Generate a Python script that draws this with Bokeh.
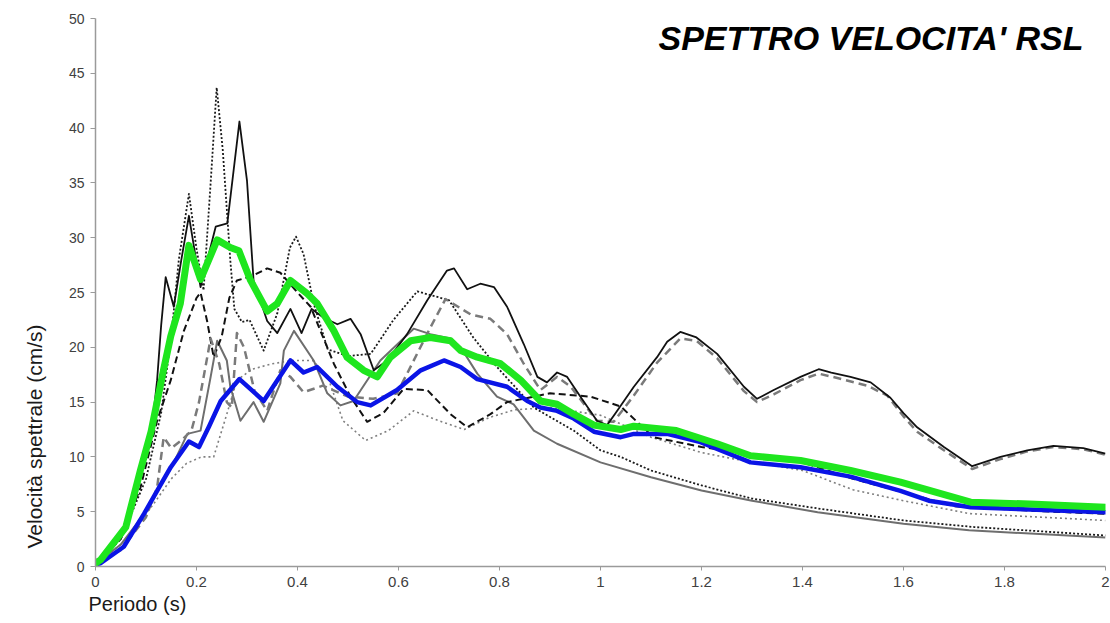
from bokeh.plotting import figure
from bokeh.embed import file_html
from bokeh.resources import INLINE
from bokeh.models import Range1d, FixedTicker, NumeralTickFormatter, Label, Title

# ---- data (period s, spectral velocity cm/s) ----
black_solid_x = [0, 0.05, 0.08, 0.1, 0.115, 0.122, 0.13, 0.139, 0.155, 0.17, 0.185, 0.208, 0.238, 0.261, 0.285, 0.30, 0.313, 0.34, 0.36, 0.386, 0.408, 0.428, 0.452, 0.479, 0.505, 0.525, 0.551, 0.578, 0.617, 0.657, 0.696, 0.71, 0.736, 0.762, 0.789, 0.815, 0.848, 0.875, 0.894, 0.914, 0.934, 0.96, 0.993, 1.013, 1.03, 1.066, 1.112, 1.132, 1.158, 1.19, 1.231, 1.284, 1.31, 1.343, 1.396, 1.432, 1.457, 1.495, 1.535, 1.574, 1.6, 1.627, 1.68, 1.736, 1.792, 1.845, 1.897, 1.956, 2.0]
black_solid_y = [0.3, 2.8, 7.0, 10.5, 14.0, 17.0, 22.0, 26.4, 23.7, 28.0, 32.0, 25.5, 31.0, 31.3, 40.6, 35.2, 26.1, 22.4, 21.3, 23.5, 21.3, 23.5, 22.7, 22.1, 22.6, 21.2, 17.9, 18.8, 21.2, 24.3, 27.0, 27.2, 25.3, 25.8, 25.5, 23.7, 20.3, 17.3, 16.8, 17.7, 17.3, 15.5, 13.3, 12.9, 14.0, 16.4, 19.1, 20.5, 21.4, 20.9, 19.4, 16.4, 15.3, 16.1, 17.3, 18.0, 17.7, 17.3, 16.8, 15.4, 14.0, 12.7, 10.9, 9.15, 10.0, 10.6, 11.0, 10.8, 10.3]

gray_dash_x = [0, 0.05, 0.1, 0.122, 0.135, 0.15, 0.17, 0.19, 0.205, 0.228, 0.245, 0.26, 0.27, 0.28, 0.294, 0.315, 0.34, 0.366, 0.386, 0.412, 0.45, 0.5, 0.55, 0.597, 0.617, 0.663, 0.693, 0.743, 0.782, 0.815, 0.848, 0.881, 0.914, 0.941, 0.993, 1.026, 1.066, 1.112, 1.158, 1.19, 1.231, 1.284, 1.31, 1.343, 1.396, 1.432, 1.469, 1.528, 1.568, 1.6, 1.627, 1.68, 1.736, 1.792, 1.845, 1.897, 1.956, 2.0]
gray_dash_y = [0.2, 1.5, 4.5, 7.2, 11.8, 10.8, 11.5, 12.4, 15.0, 20.8, 18.5, 15.0, 14.5, 21.3, 20.0, 16.0, 14.2, 17.9, 17.3, 15.9, 16.5, 15.5, 15.3, 15.8, 17.6, 21.8, 24.4, 23.0, 22.6, 21.2, 18.5, 16.1, 17.3, 16.4, 13.3, 13.2, 15.6, 18.6, 20.8, 20.6, 19.0, 16.0, 15.0, 15.7, 17.0, 17.6, 17.2, 16.5, 15.6, 13.7, 12.3, 10.6, 8.9, 9.8, 10.5, 10.9, 10.7, 10.2]

black_dash_x = [0, 0.05, 0.089, 0.122, 0.149, 0.175, 0.2, 0.208, 0.221, 0.234, 0.25, 0.265, 0.28, 0.31, 0.34, 0.366, 0.4, 0.426, 0.45, 0.472, 0.505, 0.538, 0.57, 0.61, 0.657, 0.703, 0.736, 0.782, 0.815, 0.9, 0.98, 1.04, 1.105, 1.2, 1.29, 1.4, 1.5, 1.574, 1.7, 1.85, 2.0]
black_dash_y = [0.2, 2.5, 7.2, 13.3, 17.0, 21.5, 24.5, 25.0, 22.4, 19.1, 21.0, 24.5, 26.1, 26.5, 27.2, 26.8, 25.0, 23.7, 21.0, 18.5, 15.5, 13.2, 14.0, 16.2, 16.1, 13.9, 12.7, 13.9, 15.0, 15.8, 15.5, 14.6, 11.8, 10.9, 10.3, 9.5, 8.0, 7.1, 5.5, 5.1, 4.8]

black_dot_x = [0, 0.05, 0.1, 0.13, 0.15, 0.165, 0.185, 0.2, 0.214, 0.228, 0.24, 0.252, 0.267, 0.275, 0.29, 0.305, 0.333, 0.36, 0.385, 0.397, 0.412, 0.432, 0.46, 0.5, 0.545, 0.59, 0.637, 0.7, 0.748, 0.795, 0.868, 0.947, 1.0, 1.04, 1.1, 1.2, 1.3, 1.43, 1.6, 1.74, 2.0]
black_dot_y = [0.2, 2.5, 8.0, 14.0, 21.0, 28.0, 34.0, 29.0, 25.2, 35.0, 43.7, 38.0, 27.9, 23.5, 22.3, 22.5, 19.7, 23.1, 29.1, 30.1, 28.5, 24.0, 19.8, 19.2, 19.4, 22.5, 25.1, 24.3, 20.9, 18.2, 14.5, 12.4, 10.6, 10.0, 8.76, 7.4, 6.2, 5.3, 4.2, 3.6, 2.83]

gray_dot_x = [0, 0.05, 0.1, 0.115, 0.15, 0.18, 0.21, 0.234, 0.26, 0.28, 0.31, 0.35, 0.39, 0.43, 0.46, 0.49, 0.535, 0.58, 0.63, 0.68, 0.73, 0.78, 0.83, 0.9, 1.0, 1.1, 1.2, 1.26, 1.4, 1.5, 1.6, 1.73, 2.0]
gray_dot_y = [0.2, 2.0, 4.8, 5.7, 8.0, 9.4, 10.0, 10.0, 13.9, 17.0, 18.0, 18.5, 18.8, 18.8, 17.3, 13.3, 11.5, 12.4, 14.2, 13.3, 12.5, 13.6, 14.3, 14.5, 13.8, 11.8, 10.4, 9.85, 8.76, 7.0, 6.0, 4.83, 4.2]

gray_solid_x = [0, 0.05, 0.1, 0.122, 0.15, 0.182, 0.208, 0.228, 0.241, 0.26, 0.267, 0.287, 0.313, 0.333, 0.366, 0.373, 0.393, 0.432, 0.459, 0.485, 0.511, 0.564, 0.63, 0.663, 0.703, 0.723, 0.756, 0.795, 0.828, 0.868, 0.914, 1.0, 1.1, 1.2, 1.3, 1.43, 1.6, 1.73, 2.0]
gray_solid_y = [0.2, 2.0, 5.0, 7.0, 9.0, 12.1, 12.4, 17.3, 20.6, 18.8, 16.4, 13.3, 15.0, 13.2, 16.7, 19.7, 21.5, 18.8, 15.8, 14.7, 15.1, 18.8, 21.7, 21.2, 20.8, 20.0, 17.6, 15.5, 14.8, 12.4, 11.2, 9.5, 8.15, 6.93, 6.0, 4.95, 3.9, 3.3, 2.65]

blue_x = [0, 0.01, 0.056, 0.096, 0.122, 0.149, 0.185, 0.205, 0.225, 0.248, 0.285, 0.333, 0.386, 0.412, 0.439, 0.479, 0.518, 0.545, 0.597, 0.644, 0.69, 0.723, 0.756, 0.815, 0.855, 0.881, 0.914, 0.947, 0.987, 1.04, 1.066, 1.132, 1.198, 1.297, 1.396, 1.495, 1.594, 1.65, 1.733, 2.0]
blue_y = [0.2, 0.3, 1.8, 4.8, 6.9, 9.06, 11.4, 10.9, 12.8, 15.1, 17.1, 15.1, 18.8, 17.7, 18.2, 16.4, 15.0, 14.7, 16.1, 17.9, 18.8, 18.2, 17.1, 16.4, 15.1, 14.5, 14.2, 13.5, 12.3, 11.8, 12.1, 12.1, 11.35, 9.5, 9.06, 8.2, 6.9, 6.0, 5.4, 4.95]

green_x = [0, 0.01, 0.06, 0.089, 0.11, 0.135, 0.149, 0.168, 0.185, 0.208, 0.241, 0.267, 0.284, 0.307, 0.34, 0.36, 0.386, 0.419, 0.439, 0.472, 0.498, 0.531, 0.558, 0.584, 0.624, 0.663, 0.703, 0.723, 0.756, 0.802, 0.842, 0.881, 0.914, 0.947, 0.987, 1.04, 1.066, 1.15, 1.231, 1.297, 1.396, 1.495, 1.594, 1.733, 1.85, 2.0]
green_y = [0.3, 0.6, 3.6, 8.8, 12.3, 18.0, 21.0, 24.0, 29.3, 26.2, 29.8, 29.1, 28.8, 26.1, 23.3, 24.0, 26.1, 24.9, 24.0, 21.5, 19.1, 17.9, 17.3, 19.1, 20.6, 20.9, 20.6, 19.7, 19.1, 18.5, 17.0, 15.1, 14.8, 13.9, 12.9, 12.5, 12.8, 12.4, 11.2, 10.1, 9.67, 8.76, 7.7, 5.87, 5.7, 5.4]

x_ticks = [0, 0.2, 0.4, 0.6, 0.8, 1.0, 1.2, 1.4, 1.6, 1.8, 2.0]
y_ticks = [0, 5, 10, 15, 20, 25, 30, 35, 40, 45, 50]
title_text = "SPETTRO  VELOCITA' RSL"
x_label = "Periodo (s)"
y_label = "Velocità spettrale (cm/s)"

p = figure(width=1110, height=623, output_backend="svg", toolbar_location=None,
           x_range=Range1d(0, 2), y_range=Range1d(0, 50),
           min_border_left=95, min_border_right=5, min_border_top=18, min_border_bottom=57)
p.outline_line_color = None
p.xgrid.visible = False
p.ygrid.visible = False
p.background_fill_color = "white"

for ax in (p.xaxis[0], p.yaxis[0]):
    ax.axis_line_color = "#9a9a9a"
    ax.axis_line_width = 1.5
    ax.major_tick_line_color = "#9a9a9a"
    ax.minor_tick_line_color = None
    ax.major_label_text_color = "#404040"
    ax.major_label_text_font = "Liberation Sans"

p.xaxis.ticker = FixedTicker(ticks=x_ticks)
p.xaxis.formatter = NumeralTickFormatter(format="0.[0]")
p.xaxis.major_label_text_font_size = "15px"
p.xaxis.major_tick_out = 4
p.xaxis.major_tick_in = 0
p.xaxis.major_label_standoff = 6

p.yaxis.ticker = FixedTicker(ticks=y_ticks)
p.yaxis.major_label_text_font_size = "14px"
p.yaxis.major_tick_out = 5
p.yaxis.major_tick_in = 0
p.yaxis.major_label_standoff = 6

# axis titles as side titles (x title left-aligned, y title lowered like the reference)
p.add_layout(Title(text=x_label, align="left", offset=-7, standoff=3,
                   text_font="Liberation Sans", text_font_size="20px",
                   text_font_style="normal", text_color="#1a1a1a"), "below")
p.add_layout(Title(text=y_label, align="left", offset=18, standoff=39,
                   text_font="Liberation Sans", text_font_size="21px",
                   text_font_style="normal", text_color="#1a1a1a"), "left")

# thin series
p.line(gray_dot_x, gray_dot_y, line_color="#7f7f7f", line_width=1.6, line_dash="2 3", line_join="round")
p.line(gray_solid_x, gray_solid_y, line_color="#6e6e6e", line_width=2.0, line_join="round")
p.line(black_dot_x, black_dot_y, line_color="#1a1a1a", line_width=1.8, line_dash="2 2", line_join="round")
p.line(black_dash_x, black_dash_y, line_color="#111111", line_width=2.0, line_dash="7 4", line_join="round")
p.line(gray_dash_x, gray_dash_y, line_color="#7a7a7a", line_width=2.5, line_dash="8 5", line_join="round")
p.line(black_solid_x, black_solid_y, line_color="#111111", line_width=1.8, line_join="round")
# thick series
p.line(blue_x, blue_y, line_color="#0a14e6", line_width=4.5, line_join="round", line_cap="round")
p.line(green_x, green_y, line_color="#1ee61e", line_width=7, line_join="round", line_cap="round")

p.add_layout(Label(x=1.975, y=48.2, text=title_text, text_align="right", text_baseline="middle",
                   text_font="Liberation Sans", text_font_style="bold italic",
                   text_font_size="34px", text_color="black"))

open("out.html", "w").write(file_html(p, INLINE))
